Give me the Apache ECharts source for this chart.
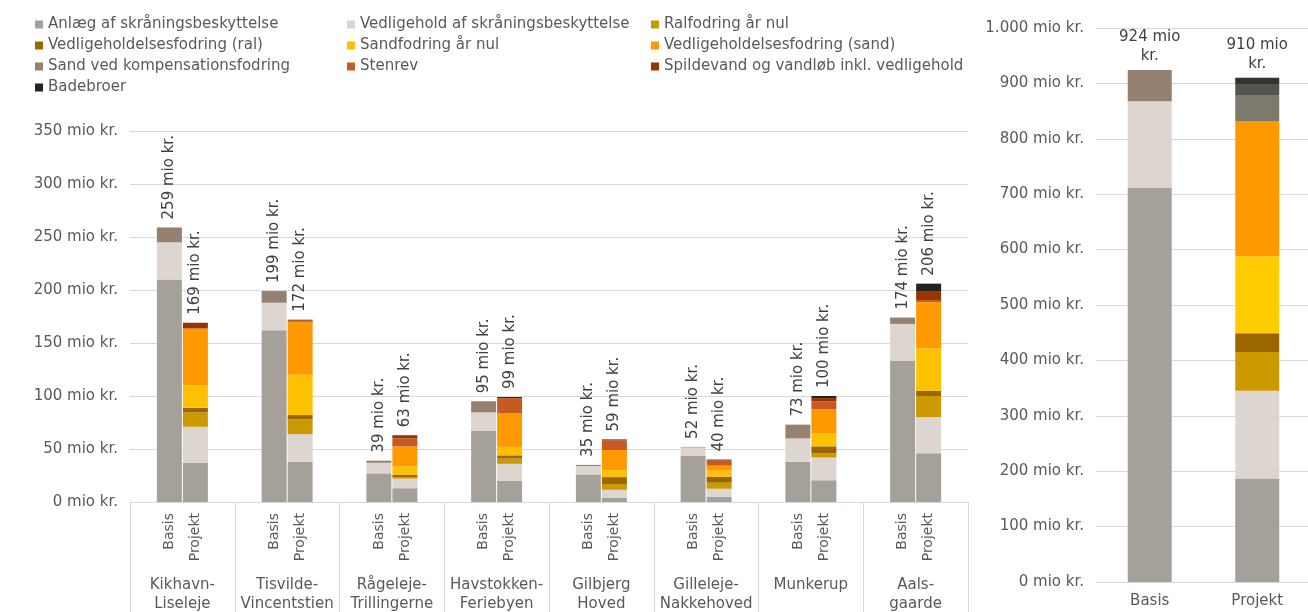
<!DOCTYPE html>
<html>
<head>
<meta charset="utf-8">
<script src="https://cdn.jsdelivr.net/npm/echarts@6/dist/echarts.min.js"></script>
<style>
  html, body { margin: 0; padding: 0; background: #fff; }
  #chart { width: 1308px; height: 612px; }
</style>
</head>
<body>
<div id="chart"></div>
<script>
// Strækninger (venstre diagram)
var sites = ["Kikhavn-\nLiseleje", "Tisvilde-\nVincentstien", "Rågeleje-\nTrillingerne", "Havstokken-\nFeriebyen",
  "Gilbjerg\nHoved", "Gilleleje-\nNakkehoved", "Munkerup", "Aals-\ngaarde"];

// Basis, mio kr.
var anlaegBasis = [210, 162, 27, 67, 26, 43.5, 38, 133];
var vedlBasis = [35, 26, 10, 17.5, 8, 8, 22, 35];
var sandKompBasis = [14, 11, 2, 10.5, 1, 0.5, 13, 6];
var basisTotals = [259, 199, 39, 95, 35, 52, 73, 174];

// Projekt, mio kr.
var anlaegProj = [37, 38, 13, 20, 4, 5, 20.5, 46];
var vedlProj = [34, 26, 9, 16, 7.5, 7.5, 21.5, 34];
var ralProj = [13.5, 14, 1.5, 5, 5.5, 5.7, 4, 20];
var vedlRalProj = [4.4, 4, 2, 3, 6.5, 5.7, 6.5, 5];
var sandProj = [21, 38, 8, 8, 6.5, 5.7, 12.5, 40];
var vedlSandProj = [53.8, 50, 19, 32, 19, 4.7, 22.5, 43.5];
var stenrevProj = [0, 1, 7.5, 14, 9, 4.7, 7.5, 2];
var spildProj = [5.4, 1, 3, 0, 0.5, 0.5, 3, 8.5];
var badeProj = [0, 0, 0, 1, 0.5, 0.5, 2, 7];
var projTotals = [169, 172, 63, 99, 59, 40, 100, 206];

// Samlet (højre diagram): [Basis, Projekt]
var totCats = ["Basis", "Projekt"];
var totAnlaeg = [711, 187];
var totVedl = [157, 158];
var totRal = [0, 70];
var totVedlRal = [0, 34];
var totSand = [0, 139];
var totVedlSand = [0, 244];
var totSandKomp = [56, 0];
var totStenrev = [0, 47];
var totSpild = [0, 20];
var totBade = [0, 11];
var totTotals = [924, 910];

var yTicks = { left: { max: 350, step: 50 }, right: { max: 1000, step: 100 } };

var N = {
  anlaeg: "Anlæg af skråningsbeskyttelse",
  vedl: "Vedligehold af skråningsbeskyttelse",
  ral: "Ralfodring år nul",
  vedlRal: "Vedligeholdelsesfodring (ral)",
  sand: "Sandfodring år nul",
  vedlSand: "Vedligeholdelsesfodring (sand)",
  sandKomp: "Sand ved kompensationsfodring",
  stenrev: "Stenrev",
  spild: "Spildevand og vandløb inkl. vedligehold",
  bade: "Badebroer"
};
var C = {
  anlaeg: "#a5a19a", vedl: "#dcd5d0", ral: "#cc9900", vedlRal: "#996600",
  sand: "#ffc000", vedlSand: "#ff9900", sandKomp: "#968170", stenrev: "#c55a22",
  spild: "#993300", bade: "#222222"
};

var FONT = "DejaVu Sans";

function fmtMio(v) {
  var s = String(v).replace(/\B(?=(\d{3})+(?!\d))/g, ".");
  return s + " mio kr.";
}

var series = [];

function leftBar(key, stack, data, label) {
  var s = {
    name: N[key], type: "bar", stack: stack, data: data,
    xAxisIndex: 0, yAxisIndex: 0,
    barWidth: 25, barGap: "4%",
    itemStyle: { color: C[key] },
    emphasis: { disabled: true }
  };
  if (label) s.label = label;
  series.push(s);
}

function subLabel(txt) {
  return {
    show: true, position: "bottom", distance: 11, rotate: 90,
    align: "right", verticalAlign: "middle",
    formatter: txt, color: "#595959", fontFamily: FONT, fontSize: 14
  };
}

function totalSeries(stack, totals, xi, opts) {
  var zeros = totals.map(function () { return 0; });
  series.push(Object.assign({
    name: "total-" + stack, type: "bar", stack: stack, data: zeros,
    xAxisIndex: xi, yAxisIndex: xi,
    itemStyle: { color: "transparent" },
    emphasis: { disabled: true },
    label: Object.assign({
      show: true, position: "top",
      formatter: function (p) { return totals[p.dataIndex] + " mio kr."; },
      color: "#404040", fontFamily: FONT, fontSize: 15
    }, opts)
  }, xi === 0 ? { barWidth: 25, barGap: "4%" } : { barWidth: 44 }));
}

// Basis-stak
leftBar("anlaeg", "b", anlaegBasis, subLabel("Basis"));
leftBar("vedl", "b", vedlBasis);
leftBar("sandKomp", "b", sandKompBasis);
totalSeries("b", basisTotals, 0, { rotate: 90, align: "left", verticalAlign: "middle", distance: 8 });

// Projekt-stak
leftBar("anlaeg", "p", anlaegProj, subLabel("Projekt"));
leftBar("vedl", "p", vedlProj);
leftBar("ral", "p", ralProj);
leftBar("vedlRal", "p", vedlRalProj);
leftBar("sand", "p", sandProj);
leftBar("vedlSand", "p", vedlSandProj);
leftBar("stenrev", "p", stenrevProj);
leftBar("spild", "p", spildProj);
leftBar("bade", "p", badeProj);
totalSeries("p", projTotals, 0, { rotate: 90, align: "left", verticalAlign: "middle", distance: 8 });

// Højre diagram
var rightColors = { stenrev: "#7b7a6d", spild: "#555550", bade: "#333333", sand: "#ffcc00" };
[["anlaeg", totAnlaeg], ["vedl", totVedl], ["ral", totRal], ["vedlRal", totVedlRal],
 ["sand", totSand], ["vedlSand", totVedlSand], ["sandKomp", totSandKomp],
 ["stenrev", totStenrev], ["spild", totSpild], ["bade", totBade]].forEach(function (d) {
  series.push({
    name: N[d[0]], type: "bar", stack: "r", data: d[1],
    xAxisIndex: 1, yAxisIndex: 1, barWidth: 44,
    itemStyle: { color: rightColors[d[0]] || C[d[0]] },
    emphasis: { disabled: true }
  });
});
totalSeries("r", totTotals, 1, {
  distance: 4, lineHeight: 19,
  formatter: function (p) { return totTotals[p.dataIndex] + " mio\nkr."; }
});

function legendCol(left, keys) {
  return {
    orient: "vertical", left: left, top: 12,
    itemWidth: 8, itemHeight: 8, itemGap: 6,
    icon: "rect",
    data: keys.map(function (k) { return N[k]; }),
    textStyle: { color: "#595959", fontFamily: FONT, fontSize: 15, lineHeight: 15 },
    selectedMode: false
  };
}

var option = {
  animation: false,
  legend: [
    legendCol(30, ["anlaeg", "vedlRal", "sandKomp", "bade"]),
    legendCol(342, ["vedl", "sand", "stenrev"]),
    legendCol(646, ["ral", "vedlSand", "spild"])
  ],
  grid: [
    { left: 130, right: 340, top: 131, bottom: 110, outerBoundsMode: "none" },
    { left: 1096, width: 215, top: 28, bottom: 30, outerBoundsMode: "none" }
  ],
  xAxis: [
    {
      type: "category", gridIndex: 0, data: sites,
      axisLine: { lineStyle: { color: "#d9d9d9" } },
      axisTick: { show: true, interval: 0, length: 112, lineStyle: { color: "#d9d9d9" } },
      axisLabel: { interval: 0, margin: 74, color: "#595959", fontFamily: FONT, fontSize: 15, lineHeight: 19 }
    },
    {
      type: "category", gridIndex: 1, data: totCats,
      axisLine: { lineStyle: { color: "#d9d9d9" } },
      axisTick: { show: false },
      axisLabel: { margin: 12, color: "#595959", fontFamily: FONT, fontSize: 15 }
    }
  ],
  yAxis: [
    {
      type: "value", gridIndex: 0, min: 0, max: yTicks.left.max, interval: yTicks.left.step,
      axisLine: { show: false }, axisTick: { show: false },
      splitLine: { lineStyle: { color: "#d9d9d9" } },
      axisLabel: { margin: 12, color: "#595959", fontFamily: FONT, fontSize: 15, formatter: fmtMio }
    },
    {
      type: "value", gridIndex: 1, min: 0, max: yTicks.right.max, interval: yTicks.right.step,
      axisLine: { show: false }, axisTick: { show: false },
      splitLine: { lineStyle: { color: "#d9d9d9" } },
      axisLabel: { margin: 12, color: "#595959", fontFamily: FONT, fontSize: 15, formatter: fmtMio }
    }
  ],
  series: series
};

var myChart = echarts.init(document.getElementById("chart"));
myChart.setOption(option);
</script>
</body>
</html>
